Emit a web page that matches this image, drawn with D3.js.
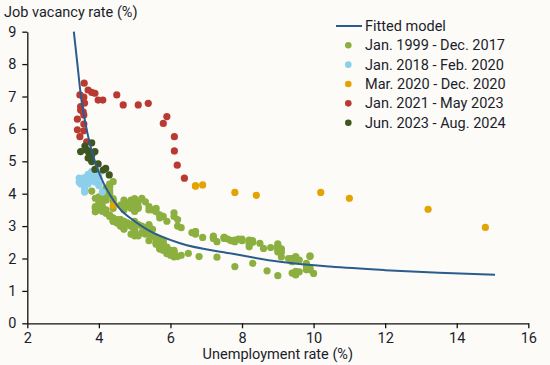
<!DOCTYPE html>
<html><head><meta charset="utf-8">
<script src="https://cdn.jsdelivr.net/npm/d3@7"></script>
<style>
html,body{margin:0;padding:0;background:#fcfbf8;}
svg{display:block;font-family:Roboto,"Noto Sans",sans-serif;}
</style></head><body>
<svg id="c" width="550" height="365"></svg>
<script>
// ---- data ----
const xTicks = [2,4,6,8,10,12,14,16];
const yTicks = [0,1,2,3,4,5,6,7,8,9];
const seriesNames = ["Jan. 1999 - Dec. 2017","Jan. 2018 - Feb. 2020","Mar. 2020 - Dec. 2020","Jan. 2021 - May 2023","Jun. 2023 - Aug. 2024"];
const seriesColors = ["#8cb040","#8ccfea","#e3a302","#b83a33","#3e5620"];
const modelName = "Fitted model";
// fitted model curve
const modelU = [3.30,3.40,3.50,3.62,3.78,3.95,4.12,4.30,4.55,5.00,5.34,6.27,7.66,9.06,10.46,12.0,13.5,15.07];
const modelV = [9.00,8.00,7.00,6.20,5.40,4.80,4.35,3.98,3.58,3.15,2.90,2.47,2.16,1.90,1.75,1.64,1.56,1.50];
// Jan 1999 - Dec 2017 (unemployment, vacancy)
const s1U = [4.3,4.4,4.2,4.3,4.2,4.3,4.3,4.2,4.2,4.1,4.1,4.0,
 4.0,4.1,4.0,3.8,4.0,4.0,4.0,4.1,3.9,3.9,3.9,3.9,
 4.2,4.2,4.3,4.4,4.3,4.5,4.6,4.9,5.0,5.3,5.5,5.7,
 5.7,5.7,5.7,5.9,5.8,5.8,5.8,5.7,5.7,5.7,5.9,6.0,
 5.8,5.9,5.9,6.0,6.1,6.3,6.2,6.1,6.1,6.0,5.8,5.7,
 5.7,5.6,5.8,5.6,5.6,5.6,5.5,5.4,5.4,5.5,5.4,5.4,
 5.3,5.4,5.2,5.2,5.1,5.0,5.0,4.9,5.0,5.0,5.0,4.9,
 4.7,4.8,4.7,4.7,4.6,4.6,4.7,4.7,4.5,4.4,4.5,4.4,
 4.6,4.5,4.4,4.5,4.4,4.6,4.7,4.6,4.7,4.7,4.7,5.0,
 5.0,4.9,5.1,5.0,5.4,5.6,5.8,6.1,6.1,6.5,6.8,7.3,
 7.8,8.3,8.7,9.0,9.4,9.5,9.5,9.6,9.8,10.0,9.9,9.9,
 9.8,9.8,9.9,9.9,9.6,9.4,9.4,9.5,9.5,9.4,9.8,9.3,
 9.1,9.0,9.0,9.1,9.0,9.1,9.0,9.0,9.0,8.8,8.6,8.5,
 8.3,8.3,8.2,8.2,8.2,8.2,8.2,8.0,7.8,7.8,7.7,7.9,
 8.0,7.7,7.5,7.6,7.5,7.5,7.3,7.2,7.2,7.2,6.9,6.7,
 6.6,6.7,6.7,6.2,6.3,6.1,6.2,6.1,5.9,5.7,5.8,5.6,
 5.7,5.5,5.4,5.4,5.6,5.3,5.2,5.1,5.0,5.0,5.1,5.0,
 4.8,4.9,5.0,5.1,4.8,4.9,4.8,4.9,5.0,4.9,4.7,4.7,
 4.7,4.6,4.4,4.4,4.4,4.3,4.3,4.4,4.3,4.2,4.2,4.1];
const s1V = [4.22,4.37,4.06,4.30,4.17,4.00,4.10,3.95,3.90,3.85,3.75,3.80,
 3.70,3.60,3.65,4.08,3.90,3.50,3.55,3.45,3.60,3.44,3.55,3.86,
 3.50,3.40,3.35,3.25,3.30,3.15,3.05,3.00,2.90,2.75,2.70,2.60,
 2.50,2.45,2.40,2.35,2.40,2.45,2.40,2.35,2.30,2.30,2.25,2.20,
 2.25,2.20,2.15,2.10,2.05,2.10,2.06,2.15,2.20,2.25,2.30,2.35,
 2.40,2.45,2.55,2.50,2.65,2.60,2.70,2.75,2.80,2.90,2.95,3.00,
 2.95,3.05,3.00,2.80,3.05,2.95,3.10,3.00,2.85,2.95,3.15,3.05,
 3.05,3.10,3.10,3.15,3.10,3.20,3.05,3.00,3.10,3.15,3.20,3.25,
 3.20,3.15,3.20,3.10,3.15,3.10,3.05,3.00,2.95,2.95,2.90,2.85,
 2.80,2.75,2.70,2.70,2.55,2.45,2.35,2.20,2.25,2.16,2.06,2.04,
 1.75,1.85,1.62,1.47,1.55,1.49,1.60,1.59,1.65,1.54,1.65,1.70,
 1.80,1.75,2.08,2.06,1.95,1.90,2.00,1.95,2.06,2.00,1.85,2.00,
 2.05,2.26,2.20,2.30,2.35,2.20,2.45,2.30,2.40,2.34,2.31,2.47,
 2.55,2.50,2.57,2.36,2.50,2.45,2.55,2.55,2.52,2.57,2.55,2.60,
 2.60,2.55,2.65,2.60,2.62,2.65,2.52,2.69,2.65,2.62,2.65,2.83,
 2.80,2.83,2.75,3.00,2.95,3.30,3.20,3.41,3.15,3.25,3.30,3.44,
 3.35,3.50,3.50,3.60,3.55,3.75,3.86,3.55,3.45,3.50,3.60,3.55,
 3.70,3.70,3.85,3.75,3.60,3.80,3.70,3.55,3.65,3.60,3.50,3.65,
 3.80,3.65,3.75,3.55,3.85,4.20,4.00,3.80,4.05,3.90,3.80,4.05];
// Jan 2018 - Feb 2020
const s2U = [4.0,4.1,4.0,3.9,3.8,4.0,3.8,3.8,3.7,3.8,3.8,3.9,4.0,3.8,3.8,3.6,3.6,3.6,3.7,3.6,3.5,3.6,3.6,3.6,3.45,3.45];
const s2V = [4.25,4.05,4.30,4.35,4.45,4.50,4.45,4.60,4.60,4.68,4.65,4.50,4.60,4.40,4.60,4.50,4.40,4.35,4.30,4.25,4.30,4.20,4.15,4.05,4.35,4.48];
// Mar 2020 - Dec 2020
const s3U = [4.4,14.8,13.2,11.0,10.2,8.4,7.8,6.9,6.7,6.7];
const s3V = [3.63,2.96,3.52,3.86,4.04,3.95,4.04,4.27,4.24,4.24];
// Jan 2021 - May 2023
const s4U = [6.39,6.19,6.11,6.11,5.80,5.90,5.38,5.10,4.68,4.50,4.11,3.98,3.89,3.80,3.70,3.59,3.47,3.58,3.49,3.49,3.56,3.58,3.40,3.58,3.40,3.58,3.47,3.66,3.60];
const s4V = [4.48,4.88,5.32,5.76,6.17,6.38,6.79,6.74,6.74,7.05,6.89,6.89,7.10,7.13,7.20,7.41,7.05,6.98,6.69,6.58,6.53,6.43,6.30,6.15,5.97,5.94,5.76,5.60,6.80];
// Jun 2023 - Aug 2024
const s5U = [3.61,3.49,3.80,3.70,3.89,3.80,3.75,3.80,3.98,3.89,4.12,4.19,4.29,3.70,3.66];
const s5V = [5.47,5.30,5.57,5.30,5.30,5.19,5.25,4.99,4.92,4.75,4.73,4.78,4.58,5.10,5.35];

// ---- chart ----
const svg = d3.select("#c");
const x = d3.scaleLinear().domain([2,16]).range([27.3,528.3]);
const y = d3.scaleLinear().domain([0,9]).range([323.3,31.7]);
const textCol = "#1b1d2b";

const xa = svg.append("g").attr("transform",`translate(0,${y(0)})`)
  .call(d3.axisBottom(x).tickValues(xTicks).tickSize(5).tickSizeOuter(0).tickPadding(4));
const ya = svg.append("g").attr("transform",`translate(${x(2)},0)`)
  .call(d3.axisLeft(y).tickValues(yTicks).tickSize(5).tickSizeOuter(0).tickPadding(6));
[xa,ya].forEach(a=>{
  a.selectAll("path,line").attr("stroke","#111").attr("stroke-width",1.3);
  a.selectAll("text").attr("fill",textCol).style("font-size","14.5px").style("font-family","Roboto");
});

const all = [[s1U,s1V],[s2U,s2V],[s3U,s3V],[s4U,s4V],[s5U,s5V]];
all.forEach((s,i)=>{
  const pts = s[0].map((u,k)=>[u,s[1][k]]);
  svg.append("g").selectAll("circle").data(pts).join("circle")
    .attr("cx",d=>x(d[0])).attr("cy",d=>y(d[1])).attr("r",3.6)
    .attr("fill",seriesColors[i]);
});

const model = modelU.map((u,k)=>[u,modelV[k]]);
svg.append("path").datum(model)
  .attr("d",d3.line().x(d=>x(d[0])).y(d=>y(d[1])).curve(d3.curveMonotoneX))
  .attr("fill","none").attr("stroke","#2a5c8c").attr("stroke-width",2);

// titles
svg.append("text").attr("x",4).attr("y",17).text("Job vacancy rate (%)")
  .attr("fill",textCol).style("font-size","14.5px");
svg.append("text").attr("x",(x(2)+x(16))/2).attr("y",359).attr("text-anchor","middle")
  .text("Unemployment rate (%)").attr("fill",textCol).style("font-size","14.5px");

// legend
const lg = svg.append("g");
lg.append("line").attr("x1",336).attr("x2",362).attr("y1",26).attr("y2",26)
  .attr("stroke","#2a5c8c").attr("stroke-width",2);
lg.append("text").attr("x",365).attr("y",26).attr("dy","0.35em").text(modelName)
  .attr("fill",textCol).style("font-size","14.5px");
seriesNames.forEach((n,i)=>{
  const yy = 45.3 + i*19.35;
  lg.append("circle").attr("cx",348.3).attr("cy",yy).attr("r",3.3).attr("fill",seriesColors[i]);
  lg.append("text").attr("x",365).attr("y",yy).attr("dy","0.35em").text(n)
    .attr("fill",textCol).style("font-size","14.5px");
});
</script></body></html>
